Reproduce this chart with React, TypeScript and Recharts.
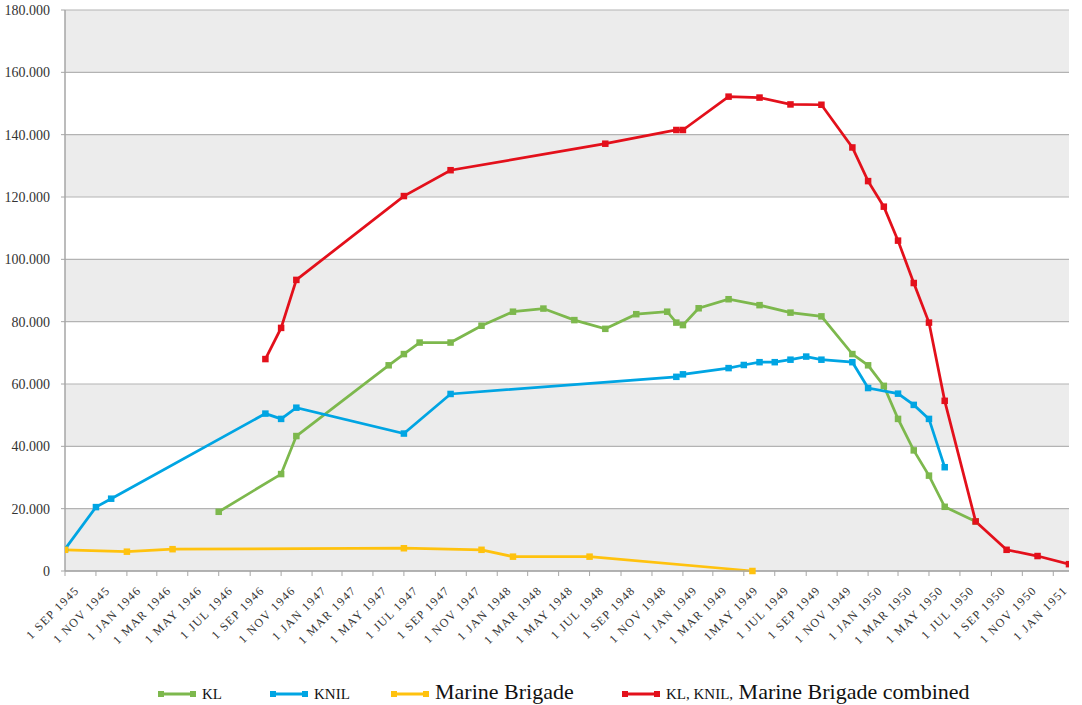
import React from "react";
import { LineChart, Line, XAxis, YAxis, CartesianGrid, Legend } from "recharts";

document.body.style.margin = "0";

const day = (s: string) => Date.UTC(+s.slice(0, 4), +s.slice(5, 7) - 1, +s.slice(8, 10));

const KL_DATES = [
  "1946-07-01", "1946-11-01", "1946-12-01", "1947-06-01", "1947-07-01", "1947-08-01",
  "1947-10-01", "1947-12-01", "1948-02-01", "1948-04-01", "1948-06-01", "1948-08-01",
  "1948-10-01", "1948-12-01", "1948-12-19", "1949-01-01", "1949-02-01", "1949-04-01",
  "1949-06-01", "1949-08-01", "1949-10-01", "1949-12-01", "1950-01-01", "1950-02-01",
  "1950-03-01", "1950-04-01", "1950-05-01", "1950-06-01", "1950-08-01",
];
const KL_VALUES = [
  19000, 31100, 43300, 66000, 69600, 73300, 73300, 78700, 83200, 84200, 80500, 77700,
  82400, 83200, 79700, 78900, 84300, 87200, 85300, 82900, 81700, 69600, 66000, 59400,
  48800, 38700, 30600, 20600, 15900,
];

const KNIL_DATES = [
  "1945-09-01", "1945-11-01", "1945-12-01", "1946-10-01", "1946-11-01", "1946-12-01",
  "1947-07-01", "1947-10-01", "1948-12-19", "1949-01-01", "1949-04-01", "1949-05-01",
  "1949-06-01", "1949-07-01", "1949-08-01", "1949-09-01", "1949-10-01", "1949-12-01",
  "1950-01-01", "1950-03-01", "1950-04-01", "1950-05-01", "1950-06-01",
];
const KNIL_VALUES = [
  7000, 20500, 23200, 50500, 48800, 52400, 44100, 56800, 62300, 63100, 65100, 66100,
  67000, 67000, 67800, 68800, 67800, 67000, 58700, 56900, 53300, 48800, 33300,
];

const MB_DATES = [
  "1945-09-01", "1946-01-01", "1946-04-01", "1947-07-01", "1947-12-01", "1948-02-01",
  "1948-07-01", "1949-05-18",
];
const MB_VALUES = [6800, 6200, 7000, 7300, 6800, 4600, 4600, 0];

const ALL_DATES = [
  "1946-10-01", "1946-11-01", "1946-12-01", "1947-07-01", "1947-10-01", "1948-08-01",
  "1948-12-19", "1949-01-01", "1949-04-01", "1949-06-01", "1949-08-01", "1949-10-01",
  "1949-12-01", "1950-01-01", "1950-02-01", "1950-03-01", "1950-04-01", "1950-05-01",
  "1950-06-01", "1950-08-01", "1950-10-01", "1950-12-01", "1951-02-01",
];
const ALL_VALUES = [
  68000, 78000, 93400, 120300, 128600, 137100, 141500, 141500, 152200, 151900, 149700,
  149600, 135900, 125100, 116900, 106000, 92400, 79700, 54600, 15900, 6800, 4800, 2200,
];

const TICK_DATES = [
  "1945-09-01", "1945-11-01", "1946-01-01", "1946-03-01", "1946-05-01", "1946-07-01",
  "1946-09-01", "1946-11-01", "1947-01-01", "1947-03-01", "1947-05-01", "1947-07-01",
  "1947-09-01", "1947-11-01", "1948-01-01", "1948-03-01", "1948-05-01", "1948-07-01",
  "1948-09-01", "1948-11-01", "1949-01-01", "1949-03-01", "1949-05-01", "1949-07-01",
  "1949-09-01", "1949-11-01", "1950-01-01", "1950-03-01", "1950-05-01", "1950-07-01",
  "1950-09-01", "1950-11-01", "1951-01-01",
];
const TICK_LABELS = [
  "1 SEP 1945", "1 NOV 1945", "1 JAN 1946", "1 MAR 1946", "1 MAY 1946", "1 JUL 1946",
  "1 SEP 1946", "1 NOV 1946", "1 JAN 1947", "1 MAR 1947", "1 MAY 1947", "1 JUL 1947",
  "1 SEP 1947", "1 NOV 1947", "1 JAN 1948", "1 MAR 1948", "1 MAY 1948", "1 JUL 1948",
  "1 SEP 1948", "1 NOV 1948", "1 JAN 1949", "1 MAR 1949", "1MAY 1949", "1 JUL 1949",
  "1 SEP 1949", "1 NOV 1949", "1 JAN 1950", "1 MAR 1950", "1 MAY 1950", "1 JUL 1950",
  "1 SEP 1950", "1 NOV 1950", "1 JAN 1951",
];
const Y_TICKS = [0, 20000, 40000, 60000, 80000, 100000, 120000, 140000, 160000, 180000];

const X_START = "1945-09-01";
const X_END = "1951-02-01";

const FONT = "'Liberation Serif', 'Times New Roman', serif";
const GREEN = "#7db84d";
const BLUE = "#00a5e3";
const YELLOW = "#ffc20e";
const RED = "#e3101b";

const toSeries = (dates: string[], values: number[]) =>
  dates.map((d, i) => ({ t: day(d), v: values[i] }));

const klData = toSeries(KL_DATES, KL_VALUES);
const knilData = toSeries(KNIL_DATES, KNIL_VALUES);
const mbData = toSeries(MB_DATES, MB_VALUES);
const allData = toSeries(ALL_DATES, ALL_VALUES);
const tickTimes = TICK_DATES.map(day);

const fmtY = (v: number) => (v === 0 ? "0" : `${v / 1000}.000`);

// square markers like the Excel original
const squareDot = (color: string) => (p: any) => (
  <rect key={p.index} x={p.cx - 3.25} y={p.cy - 3.25} width={6.5} height={6.5} fill={color} />
);

function XTick({ x, y, payload }: any) {
  const label = TICK_LABELS[tickTimes.indexOf(payload.value)];
  const ax = x + 15;
  const ay = y + 13;
  return (
    <text
      x={ax}
      y={ay}
      textAnchor="end"
      transform={`rotate(-45 ${ax} ${ay})`}
      fontFamily={FONT}
      fontSize={12}
      letterSpacing={1.3}
      fill="#333"
    >
      {label}
    </text>
  );
}

const LEGEND_ITEMS = [
  { color: GREEN, x: 158, small: "KL", big: "" },
  { color: BLUE, x: 270, small: "KNIL", big: "" },
  { color: YELLOW, x: 391, small: "", big: "Marine Brigade" },
  { color: RED, x: 622, small: "KL, KNIL,", big: " Marine Brigade combined" },
];

function ChartLegend() {
  return (
    <svg width={1082} height={28} style={{ display: "block" }}>
      {LEGEND_ITEMS.map((it) => (
        <g key={it.color}>
          <line x1={it.x} x2={it.x + 38} y1={17} y2={17} stroke={it.color} strokeWidth={3} />
          <rect x={it.x} y={14} width={6} height={6} fill={it.color} />
          <rect x={it.x + 32} y={14} width={6} height={6} fill={it.color} />
          <text x={it.x + 44} y={22} fontFamily={FONT} fill="#111">
            {it.small && <tspan fontSize={15}>{it.small}</tspan>}
            {it.big && <tspan fontSize={22}>{it.big}</tspan>}
          </text>
        </g>
      ))}
    </svg>
  );
}

export default function App() {
  return (
    <div style={{ width: 1082, height: 705, background: "#fff" }}>
      <LineChart width={1082} height={705} margin={{ top: 10, right: 13, left: 0, bottom: 0 }}>
        <CartesianGrid
          vertical={false}
          stroke="#b3b3b3"
          strokeWidth={1.2}
          horizontalFill={["#ececec", "#ffffff"]}
          fillOpacity={1}
        />
        <XAxis
          type="number"
          dataKey="t"
          domain={[day(X_START), day(X_END)]}
          ticks={tickTimes}
          interval={0}
          allowDataOverflow
          height={106}
          tick={<XTick />}
          tickSize={5}
          axisLine={{ stroke: "#a6a6a6", strokeWidth: 1.5 }}
          tickLine={{ stroke: "#a6a6a6" }}
        />
        <YAxis
          type="number"
          domain={[0, 180000]}
          ticks={Y_TICKS}
          interval={0}
          width={65}
          tickFormatter={fmtY}
          tickSize={4}
          tickMargin={11}
          tick={{ fontFamily: FONT, fontSize: 14, fill: "#333" }}
          axisLine={{ stroke: "#a6a6a6", strokeWidth: 1.5 }}
          tickLine={{ stroke: "#a6a6a6" }}
        />
        <Legend
          verticalAlign="bottom"
          height={28}
          wrapperStyle={{ left: 0, width: 1082 }}
          content={() => <ChartLegend />}
        />
        <Line data={klData} dataKey="v" name="KL" stroke={GREEN} strokeWidth={2.75}
          dot={squareDot(GREEN)} activeDot={false} isAnimationActive={false} />
        <Line data={knilData} dataKey="v" name="KNIL" stroke={BLUE} strokeWidth={2.75}
          dot={squareDot(BLUE)} activeDot={false} isAnimationActive={false} />
        <Line data={mbData} dataKey="v" name="Marine Brigade" stroke={YELLOW} strokeWidth={2.75}
          dot={squareDot(YELLOW)} activeDot={false} isAnimationActive={false} />
        <Line data={allData} dataKey="v" name="KL, KNIL, Marine Brigade combined" stroke={RED}
          strokeWidth={2.75} dot={squareDot(RED)} activeDot={false} isAnimationActive={false} />
      </LineChart>
    </div>
  );
}
